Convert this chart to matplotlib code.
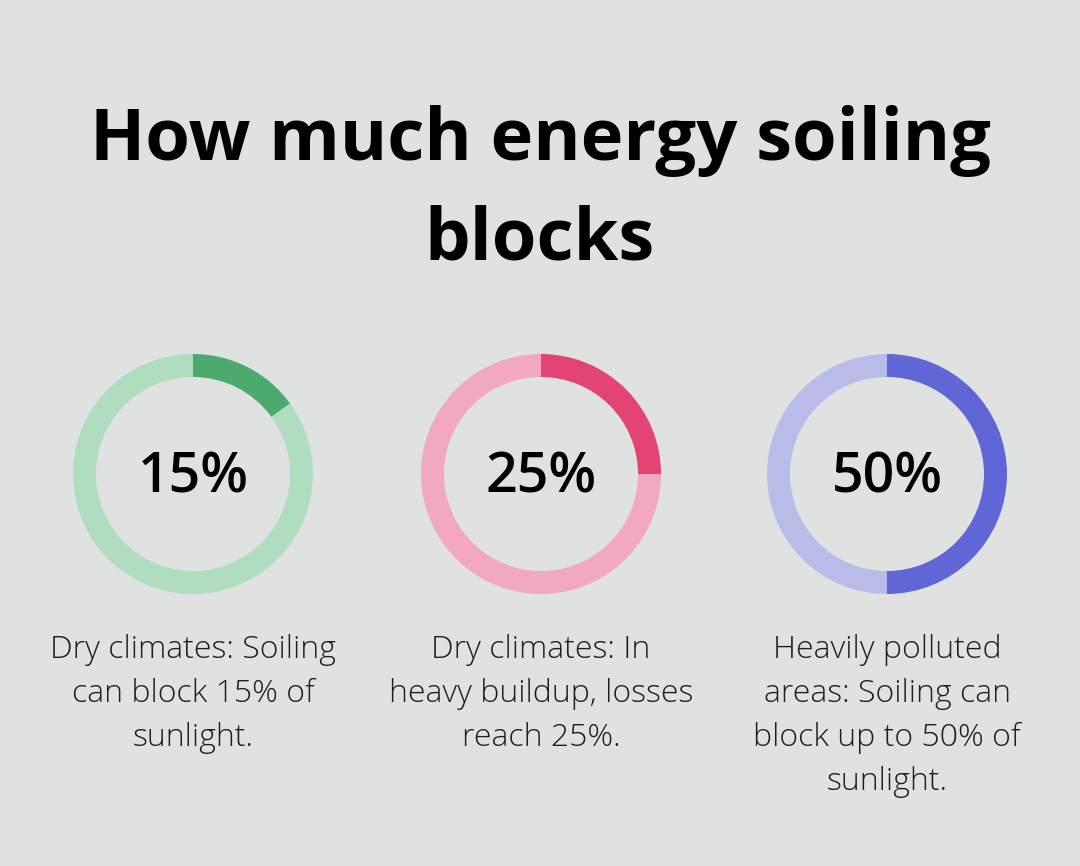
import matplotlib
matplotlib.use("Agg")
import matplotlib.pyplot as plt

# Data
title_lines = ["How much energy soiling", "blocks"]
percent_values = [15, 25, 50]
percent_labels = ["15%", "25%", "50%"]
descriptions = [
    "Dry climates: Soiling\ncan block 15% of\nsunlight.",
    "Dry climates: In\nheavy buildup, losses\nreach 25%.",
    "Heavily polluted\nareas: Soiling can\nblock up to 50% of\nsunlight.",
]
dark_colors = ["#4daa6e", "#e34474", "#6066d5"]
light_colors = ["#b0dcc0", "#f2a8bf", "#b9bce9"]

W, H = 1080, 866
BG = "#e0e2e1"
fig = plt.figure(figsize=(W / 100, H / 100), dpi=100, facecolor=BG)

FONT = ["Open Sans", "DejaVu Sans"]

# Title
fig.text(540 / W, 1 - 141 / H, title_lines[0], ha="center", va="center",
         fontsize=52, fontweight="bold", family=FONT, color="#000000")
fig.text(540 / W, 1 - 241 / H, title_lines[1], ha="center", va="center",
         fontsize=52, fontweight="bold", family=FONT, color="#000000")

centers_x = [193, 541, 887]
cy = 474
R = 120
ring = 23

for i, v in enumerate(percent_values):
    cx = centers_x[i]
    ax = fig.add_axes([(cx - R) / W, (H - cy - R) / H, 2 * R / W, 2 * R / H])
    ax.pie([v, 100 - v], colors=[dark_colors[i], light_colors[i]],
           startangle=90, counterclock=False, radius=1,
           wedgeprops=dict(width=ring / R, linewidth=0))
    ax.set_xlim(-1, 1)
    ax.set_ylim(-1, 1)
    ax.set_aspect("auto")
    ax.axis("off")
    ax.text(0, -0.035, percent_labels[i], ha="center", va="center",
            fontsize=40, family=FONT, fontweight="semibold", color="#000000")
    fig.text(cx / W, 1 - 634 / H, descriptions[i], ha="center", va="top",
             fontsize=23, family=FONT, fontweight="light", color="#1e1e1e",
             linespacing=1.5)

fig.savefig("out.png", dpi=100, facecolor=BG)
